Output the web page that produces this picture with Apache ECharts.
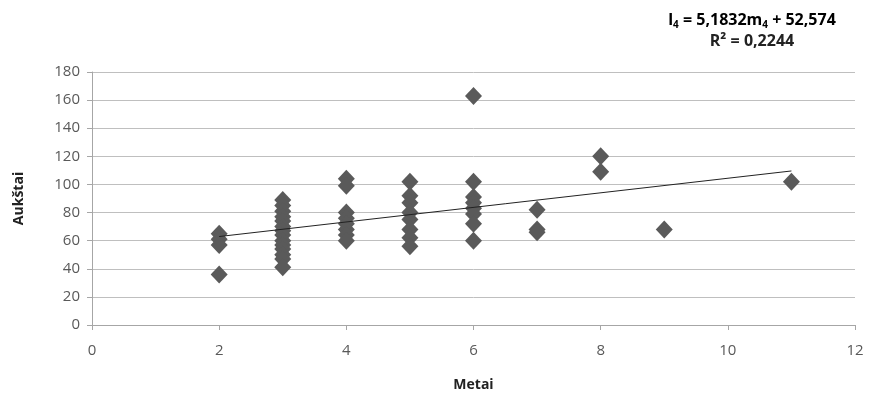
<!DOCTYPE html>
<html>
<head>
<meta charset="utf-8">
<script src="https://cdn.jsdelivr.net/npm/echarts@6/dist/echarts.min.js"></script>
<style>
  html, body { margin: 0; padding: 0; background: #fff; }
  #chart { width: 869px; height: 397px; }
</style>
</head>
<body>
<div id="chart"></div>
<script>
// metai (x) -> aukštai (y)
const metai = [
  2, 2, 2, 2,
  3, 3, 3, 3, 3, 3, 3, 3, 3, 3, 3, 3, 3, 3,
  4, 4, 4, 4, 4, 4, 4, 4,
  5, 5, 5, 5, 5, 5, 5, 5,
  6, 6, 6, 6, 6, 6, 6, 6,
  7, 7, 7,
  8, 8,
  9,
  11
]
const aukstai = [
  65, 61, 57, 36,
  89, 85, 81, 77, 74, 70, 67, 64, 60, 57, 54, 50, 47, 41,
  104, 99, 80, 76, 72, 68, 64, 60,
  102, 92, 87, 80, 75, 68, 62, 56,
  163, 102, 91, 87, 83, 79, 72, 60,
  82, 68, 66,
  120, 109,
  68,
  102
]

// linear trendline shown on the chart
const slope = 5.1832
const intercept = 52.574
const trendX = [2, 11]

const labelColor = '#595959'
const font = '"Open Sans", "Noto Sans", sans-serif'

const chart = echarts.init(document.getElementById('chart'), null, { renderer: 'canvas' })

chart.setOption({
  backgroundColor: '#fff',
  animation: false,
  grid: { left: 92, right: 14, top: 72, bottom: 72 },
  graphic: [
    {
      type: 'text',
      x: 752,
      y: 20,
      style: {
        text: '{b|l}{s|4}{b| = 5,1832m}{s|4}{b| + 52,574}',
        align: 'center',
        verticalAlign: 'middle',
        rich: {
          b: { fontFamily: font, fontWeight: 'bold', fontSize: 16, color: '#222' },
          s: { fontFamily: font, fontWeight: 'bold', fontSize: 10, color: '#222', padding: [11, 0, 0, 0] }
        }
      }
    },
    {
      type: 'text',
      x: 752,
      y: 41,
      style: {
        text: 'R² = 0,2244',
        align: 'center',
        verticalAlign: 'middle',
        fontFamily: font,
        fontWeight: 'bold',
        fontSize: 16,
        fill: '#222'
      }
    }
  ],
  xAxis: {
    type: 'value',
    min: 0,
    max: 12,
    interval: 2,
    name: 'Metai',
    nameLocation: 'middle',
    nameGap: 53,
    nameTextStyle: { fontFamily: font, fontWeight: 'bold', fontSize: 14, color: '#222' },
    axisLine: { show: true, lineStyle: { color: '#a6a6a6' } },
    axisTick: { show: true, length: 5, lineStyle: { color: '#a6a6a6' } },
    axisLabel: { fontFamily: font, fontSize: 15, color: labelColor, margin: 18 },
    splitLine: { show: false }
  },
  yAxis: {
    type: 'value',
    min: 0,
    max: 180,
    interval: 20,
    name: 'Aukštai',
    nameLocation: 'middle',
    nameGap: 66,
    nameTextStyle: { fontFamily: font, fontWeight: 'bold', fontSize: 14, color: '#222' },
    axisLine: { show: true, lineStyle: { color: '#a6a6a6' } },
    axisTick: { show: true, length: 5, lineStyle: { color: '#a6a6a6' } },
    axisLabel: { fontFamily: font, fontSize: 15, color: labelColor, margin: 12 },
    splitLine: { show: true, lineStyle: { color: '#bfbfbf', width: 1 } }
  },
  series: [
    {
      type: 'scatter',
      symbol: 'diamond',
      symbolSize: [17, 18],
      itemStyle: { color: '#5a5a5a', opacity: 1 },
      data: metai.map((x, i) => [x, aukstai[i]]),
      z: 3
    },
    {
      type: 'line',
      symbol: 'none',
      lineStyle: { color: '#222', width: 1 },
      data: trendX.map(x => [x, slope * x + intercept]),
      z: 4
    }
  ]
})
</script>
</body>
</html>
